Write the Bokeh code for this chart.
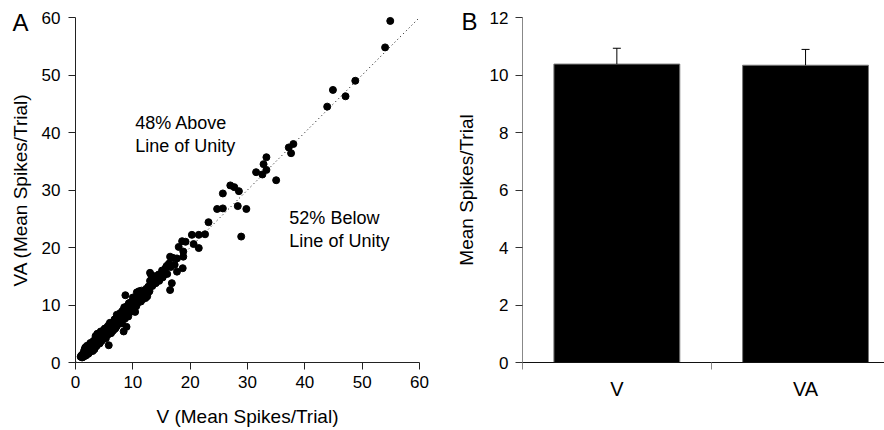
from bokeh.plotting import figure
from bokeh.layouts import row
from bokeh.models import Range1d, FixedTicker, Label, Whisker, TeeHead, ColumnDataSource
from bokeh.embed import file_html
from bokeh.resources import INLINE

FONT = "Liberation Sans"

# ---- Panel A data: mean spikes/trial per neuron (V vs VA) ----
v_g1 = [0.9, 1.0, 1.1, 1.2, 1.3, 1.4, 1.5, 1.5, 1.6, 1.7, 1.7, 1.8, 1.9, 1.9, 2.0,
        2.0, 2.1, 2.2, 2.2, 2.3, 2.4, 2.4, 2.5, 2.5, 2.6, 2.7, 2.7, 2.8, 2.9, 3.0]
va_g1 = [1.0, 1.2, 0.9, 1.4, 1.1, 1.6, 1.2, 2.0, 1.5, 1.3, 2.6, 1.8, 1.4, 2.2, 1.7,
         2.9, 2.0, 1.5, 2.5, 2.1, 1.8, 2.8, 2.3, 3.2, 2.0, 2.6, 3.0, 2.2, 3.4, 2.7]

v_g2 = [3.0, 3.1, 3.2, 3.2, 3.3, 3.4, 3.4, 3.5, 3.6, 3.6, 3.7, 3.8, 3.8, 3.9, 4.0,
        4.0, 4.1, 4.2, 4.3, 4.3, 4.4, 4.5, 4.5, 4.6, 4.7, 4.8, 4.8, 4.9, 5.0, 5.0]
va_g2 = [3.1, 2.4, 3.6, 2.9, 3.3, 2.6, 4.0, 3.4, 3.0, 4.3, 3.7, 3.2, 5.0, 4.1, 3.6,
         4.6, 3.9, 4.4, 3.5, 5.1, 4.2, 4.8, 3.9, 4.5, 5.3, 4.1, 4.9, 5.6, 4.6, 5.2]

v_g3 = [5.1, 5.2, 5.3, 5.4, 5.4, 5.5, 5.6, 5.7, 5.8, 5.8, 5.9, 6.0, 6.1, 6.2, 6.2,
        6.3, 6.4, 6.5, 6.6, 6.7, 6.8, 6.9, 7.0, 7.0, 7.1, 7.2, 7.3, 7.4, 7.5, 7.6]
va_g3 = [4.3, 5.8, 5.0, 4.7, 5.5, 6.1, 5.2, 4.9, 5.7, 3.0, 6.4, 5.4, 6.0, 5.1, 6.7,
         5.8, 6.3, 5.5, 7.0, 6.2, 5.8, 6.6, 7.4, 6.0, 6.9, 8.3, 6.5, 7.2, 7.8, 6.8]

v_g4 = [7.7, 7.8, 7.9, 8.0, 8.1, 8.2, 8.3, 8.4, 8.4, 8.5, 8.6, 8.7, 8.7, 8.8, 8.9,
        9.0, 9.1, 9.2, 9.4, 9.5, 9.7, 9.8, 10.0, 10.1, 10.3, 10.4, 10.5, 10.7, 10.8, 11.0]
va_g4 = [7.5, 8.6, 7.1, 8.0, 7.4, 9.0, 7.8, 5.4, 8.5, 9.6, 8.1, 11.7, 8.3, 9.2, 6.2,
         8.8, 9.9, 8.5, 9.4, 10.4, 9.0, 10.0, 11.3, 9.7, 10.5, 8.8, 11.0, 12.2, 10.3, 11.6]

v_g5 = [11.2, 11.3, 11.5, 11.7, 11.9, 12.1, 12.3, 12.5, 12.7, 12.9, 13.0, 13.0, 13.3, 13.2, 13.6,
        13.9, 14.2, 14.5, 14.8, 15.1, 15.4, 15.7, 16.0, 16.3, 16.5, 16.5, 16.8, 17.0, 17.7, 17.7]
va_g5 = [10.9, 11.2, 12.5, 11.0, 12.3, 11.8, 12.8, 11.5, 13.2, 12.4, 15.6, 14.2, 14.3, 15.2, 13.9,
         14.9, 14.9, 15.3, 14.6, 16.0, 15.2, 16.4, 15.4, 17.2, 18.4, 12.6, 13.8, 18.2, 18.1, 15.8]

v_g6 = [18.0, 18.6, 18.7, 18.8, 18.8, 19.2, 20.3, 20.6, 21.5, 21.5, 22.6, 23.2, 24.7, 25.7, 25.7,
        27.0, 27.7, 28.5, 28.3, 29.8, 28.9, 31.5, 32.6, 32.8, 33.3, 33.3, 35.0, 37.2, 37.6, 38.0,
        43.9, 44.9, 47.1, 48.8, 54.0, 54.9]
va_g6 = [20.1, 21.1, 16.4, 19.3, 18.4, 21.0, 22.2, 20.6, 19.9, 22.2, 22.3, 24.4, 26.7, 26.8, 29.4,
         30.8, 30.5, 29.8, 27.2, 26.7, 21.9, 33.1, 32.7, 34.5, 35.7, 33.5, 31.7, 37.4, 36.4, 38.0,
         44.5, 47.4, 46.3, 49.0, 54.8, 59.4]

v_g7 = [1.2, 1.4, 1.6, 1.8, 2.1, 2.3, 2.6, 2.8, 3.0, 3.1, 3.3, 3.5, 3.7, 3.9, 4.1,
        4.2, 4.4, 4.6, 4.9, 5.1, 5.3, 5.5, 5.7, 5.9, 6.0, 6.3, 6.5, 6.8, 7.1, 7.3,
        7.6, 7.9, 8.1, 8.3, 8.6, 8.9, 9.2, 9.3, 9.6, 9.9, 10.2, 10.6, 11.1, 11.4, 11.8,
        12.2, 12.6, 13.4, 13.8, 14.0, 14.6, 15.2, 15.9, 16.6, 17.3]
va_g7 = [0.9, 1.0, 2.3, 1.2, 2.6, 1.6, 3.4, 2.5, 2.0, 3.7, 2.3, 4.6, 2.9, 3.4, 4.9,
         3.3, 5.4, 3.8, 4.4, 5.9, 4.2, 5.0, 6.4, 5.0, 6.9, 5.4, 6.6, 7.5, 6.2, 7.8,
         7.1, 8.2, 6.8, 8.9, 7.6, 9.5, 8.0, 10.3, 9.8, 8.9, 10.9, 9.8, 12.4, 10.6, 12.0,
         11.2, 12.0, 13.3, 15.0, 13.8, 14.2, 14.8, 16.8, 16.6, 17.0]

v_mean = v_g1 + v_g2 + v_g3 + v_g4 + v_g5 + v_g6 + v_g7
va_mean = va_g1 + va_g2 + va_g3 + va_g4 + va_g5 + va_g6 + va_g7

scatter_ticks = [0, 10, 20, 30, 40, 50, 60]

# ---- Panel B data ----
conditions = ["V", "VA"]
cond_means = [10.38, 10.34]
cond_sem = [0.55, 0.55]
bar_ticks = [0, 2, 4, 6, 8, 10, 12]


def style_axis(ax, line_color, tick_color, label_size="17px"):
    ax.axis_line_color = line_color
    ax.axis_line_width = 1
    ax.major_tick_line_color = tick_color
    ax.major_tick_out = 7
    ax.major_tick_in = 0
    ax.minor_tick_line_color = None
    ax.major_label_text_font = FONT
    ax.major_label_text_font_size = label_size
    ax.major_label_text_color = "black"
    ax.axis_label_text_font = FONT
    ax.axis_label_text_font_size = "19px"
    ax.axis_label_text_font_style = "normal"
    ax.axis_label_text_color = "black"


# ---------------- Panel A ----------------
# frame covers the whole canvas; axes are pinned at the data origin
A_PX_X = 344 / 60.0
A_PX_Y = 345 / 60.0
pA = figure(width=440, height=430,
            x_range=Range1d(-75 / A_PX_X, (440 - 75) / A_PX_X),
            y_range=Range1d(-68 / A_PX_Y, 60 + 17 / A_PX_Y),
            output_backend="svg", toolbar_location=None, min_border=0)
pA.outline_line_color = None
pA.grid.visible = False

pA.xaxis.ticker = FixedTicker(ticks=scatter_ticks)
pA.yaxis.ticker = FixedTicker(ticks=scatter_ticks)
style_axis(pA.xaxis[0], "#222222", "#222222")
style_axis(pA.yaxis[0], "#222222", "#222222")
pA.xaxis.fixed_location = 0
pA.yaxis.fixed_location = 0
pA.xaxis.bounds = (scatter_ticks[0], scatter_ticks[-1])
pA.yaxis.bounds = (scatter_ticks[0], scatter_ticks[-1])
pA.xaxis.axis_label = "V (Mean Spikes/Trial)"
pA.yaxis.axis_label = "VA (Mean Spikes/Trial)"
pA.xaxis.major_label_standoff = 6
pA.yaxis.major_label_standoff = 8
pA.xaxis.axis_label_standoff = 15
pA.yaxis.axis_label_standoff = 8

pA.line([scatter_ticks[0], scatter_ticks[-1]], [scatter_ticks[0], scatter_ticks[-1]],
        line_color="black", line_width=1, line_dash="1 3")
pA.scatter(v_mean, va_mean, size=7, fill_color="black", line_color="black")

for txt, yy in [("48% Above", 41.6), ("Line of Unity", 37.7)]:
    pA.add_layout(Label(x=10.4, y=yy, text=txt, text_font=FONT, text_font_size="18px",
                        text_baseline="alphabetic", text_color="black"))
for txt, yy in [("52% Below", 25.1), ("Line of Unity", 21.2)]:
    pA.add_layout(Label(x=37.3, y=yy, text=txt, text_font=FONT, text_font_size="18px",
                        text_baseline="alphabetic", text_color="black"))

pA.add_layout(Label(x=(12 - 75) / A_PX_X, y=(362 - 8) / A_PX_Y, text="A",
                    text_font=FONT, text_font_size="24px", text_baseline="top",
                    text_color="black"))

# ---------------- Panel B ----------------
B_PX_X = 188.7
B_PX_Y = 345 / 12.0
xs = [i + 0.5 for i in range(len(conditions))]
pB = figure(width=444, height=430,
            x_range=Range1d(-82 / B_PX_X, (444 - 82) / B_PX_X),
            y_range=Range1d(-68 / B_PX_Y, 12 + 17 / B_PX_Y),
            output_backend="svg", toolbar_location=None, min_border=0)
pB.outline_line_color = None
pB.grid.visible = False

pB.yaxis.ticker = FixedTicker(ticks=bar_ticks)
style_axis(pB.yaxis[0], "#888888", "#333333")
pB.yaxis.fixed_location = 0
pB.yaxis.bounds = (bar_ticks[0], bar_ticks[-1])
pB.yaxis.axis_label = "Mean Spikes/Trial"
pB.yaxis.major_label_standoff = 7
pB.yaxis.axis_label_standoff = 10

pB.xaxis.ticker = FixedTicker(ticks=xs, minor_ticks=[i for i in range(len(conditions))])
style_axis(pB.xaxis[0], "#111111", None, label_size="20px")
pB.xaxis.fixed_location = 0
pB.xaxis.bounds = (0, (444 - 82) / B_PX_X)
pB.xaxis.major_label_overrides = {x: c for x, c in zip(xs, conditions)}
pB.xaxis.minor_tick_line_color = "#888888"
pB.xaxis.minor_tick_out = 7
pB.xaxis.minor_tick_in = 0
pB.xaxis.major_label_standoff = 8

src = ColumnDataSource(dict(x=xs, top=cond_means,
                            upper=[m + s for m, s in zip(cond_means, cond_sem)]))
pB.vbar(x="x", top="top", bottom=0, width=0.667, source=src, fill_color="black",
        line_color="#777777", line_width=1)
pB.add_layout(Whisker(source=src, base="x", upper="upper", lower="top",
                      line_color="black", line_width=1, level="overlay",
                      upper_head=TeeHead(size=8, line_color="black", line_width=1),
                      lower_head=None))

pB.add_layout(Label(x=(461 - 522) / B_PX_X, y=(362 - 7) / B_PX_Y, text="B",
                    text_font=FONT, text_font_size="24px", text_baseline="top",
                    text_color="black"))

layout = row(pA, pB)
open("out.html", "w").write(file_html(layout, INLINE))
